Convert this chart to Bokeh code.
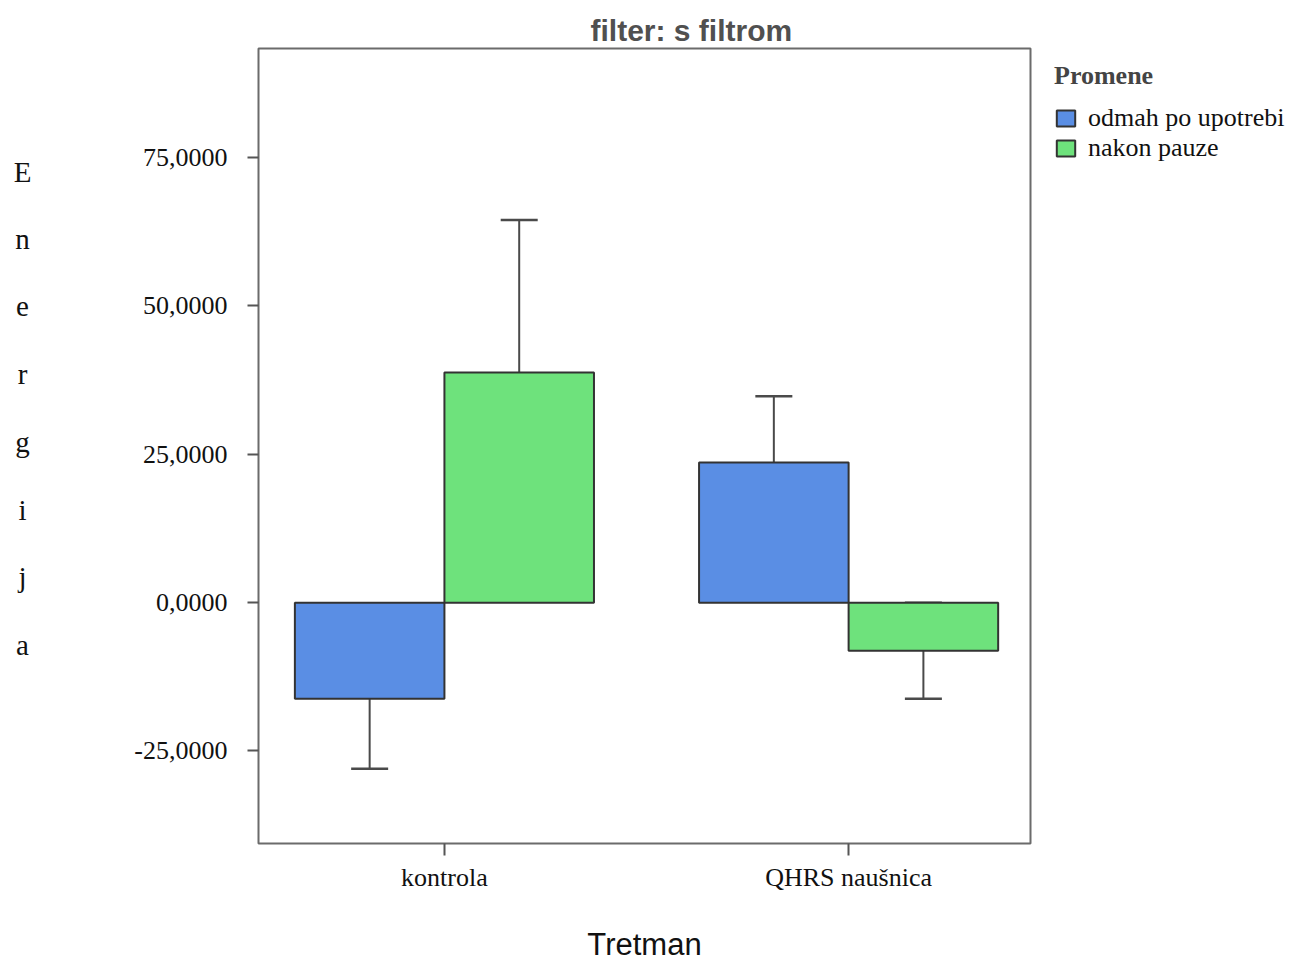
from bokeh.plotting import figure
from bokeh.models import (ColumnDataSource, Range1d, FixedTicker, Whisker, TeeHead,
                          Legend, LegendItem)
from bokeh.layouts import row
from bokeh.embed import file_html
from bokeh.resources import INLINE
from bokeh.core.properties import value

# ---------------- data ----------------
categories = ["kontrola", "QHRS naušnica"]
series = ["odmah po upotrebi", "nakon pauze"]
mean_odmah = [-16.2, 23.6]
mean_nakon = [38.8, -8.1]
lower_odmah = [-28.0, 12.5]
upper_odmah = [-4.2, 34.8]
lower_nakon = [13.3, -16.2]
upper_nakon = [64.5, 0.0]
y_ticks = [-25, 0, 25, 50, 75]
y_tick_labels = ["-25,0000", "0,0000", "25,0000", "50,0000", "75,0000"]
title_text = "filter: s filtrom"
x_title = "Tretman"
y_title = "Energija"
legend_title = "Promene"

colors = ["#5a8ee4", "#6ee27c"]
bar_w = 0.37
pos = [1, 2]

SIDE_W = 88
FRAME_W, FRAME_H = 772, 795
TOP, BOTTOM, LEFT, RIGHT = 48, 118, 170, 266

p = figure(output_backend="svg", toolbar_location=None,
           frame_width=FRAME_W, frame_height=FRAME_H,
           x_range=Range1d(0.54, 2.45), y_range=Range1d(-40.6, 93.4),
           min_border_left=LEFT, min_border_top=TOP, min_border_bottom=BOTTOM,
           min_border_right=RIGHT, background_fill_color="white")

src_o = ColumnDataSource(dict(x=[v - bar_w / 2 for v in pos], top=mean_odmah,
                              lo=lower_odmah, hi=upper_odmah))
src_n = ColumnDataSource(dict(x=[v + bar_w / 2 for v in pos], top=mean_nakon,
                              lo=lower_nakon, hi=upper_nakon))

r_o = p.vbar(x="x", top="top", bottom=0, width=bar_w, source=src_o,
             fill_color=colors[0], line_color="#333333", line_width=2)
r_n = p.vbar(x="x", top="top", bottom=0, width=bar_w, source=src_n,
             fill_color=colors[1], line_color="#333333", line_width=2)

for src in (src_o, src_n):
    w = Whisker(source=src, base="x", lower="lo", upper="hi",
                line_color="#4a4a4a", line_width=2,
                upper_head=TeeHead(size=37, line_color="#4a4a4a", line_width=2.5),
                lower_head=TeeHead(size=37, line_color="#4a4a4a", line_width=2.5))
    p.add_layout(w)

# title
p.title.text = title_text
p.title.align = "left"
p.title.offset = 332
p.title.standoff = 4
p.title.text_font = "Liberation Sans"
p.title.text_font_size = "30px"
p.title.text_font_style = "bold"
p.title.text_color = "#505050"

# axes
p.xaxis.ticker = FixedTicker(ticks=pos)
p.xaxis.major_label_overrides = {pos[i]: categories[i] for i in range(2)}
p.yaxis.ticker = FixedTicker(ticks=y_ticks)
p.yaxis.major_label_overrides = {y_ticks[i]: y_tick_labels[i] for i in range(len(y_ticks))}
for ax in (p.xaxis, p.yaxis):
    ax.axis_line_color = None
    ax.major_tick_line_color = "#555555"
    ax.major_tick_line_width = 2
    ax.minor_tick_line_color = None
    ax.major_tick_in = 0
    ax.major_label_text_font = "Liberation Serif"
    ax.major_label_text_font_size = "26px"
    ax.major_label_text_color = "#111111"
p.yaxis.major_tick_out = 11
p.yaxis.major_label_standoff = 20
p.xaxis.major_tick_out = 12
p.xaxis.major_label_standoff = 7
p.xaxis.axis_label = x_title
p.xaxis.axis_label_text_font = "Liberation Sans"
p.xaxis.axis_label_text_font_size = "31px"
p.xaxis.axis_label_text_font_style = "normal"
p.xaxis.axis_label_text_color = "#111111"
p.xaxis.axis_label_standoff = 32

p.xgrid.grid_line_color = None
p.ygrid.grid_line_color = None
p.outline_line_color = "#6b6b6b"
p.outline_line_width = 2

legend = Legend(items=[LegendItem(label=series[0], renderers=[r_o]),
                       LegendItem(label=series[1], renderers=[r_n])],
                title=legend_title, location=(24, 680))
legend.title_text_font = "Liberation Serif"
legend.title_text_font_size = "26px"
legend.title_text_font_style = "bold"
legend.title_standoff = 12
legend.label_text_font = "Liberation Serif"
legend.label_text_font_size = "26px"
legend.label_text_color = "#111111"
legend.glyph_width = 23
legend.glyph_height = 20
legend.label_height = 20
legend.spacing = 0
legend.label_standoff = 11
legend.padding = 0
legend.margin = 0
legend.border_line_color = None
legend.background_fill_alpha = 0
p.add_layout(legend, "right")

# vertical stacked y-axis title in a narrow side figure (page-pixel coordinates)
side = figure(output_backend="svg", toolbar_location=None,
              frame_width=SIDE_W, frame_height=FRAME_H,
              min_border_left=0, min_border_right=0,
              min_border_top=TOP, min_border_bottom=BOTTOM,
              x_range=Range1d(0, SIDE_W), y_range=Range1d(TOP + FRAME_H, TOP),
              outline_line_color=None)
side.axis.visible = False
side.grid.grid_line_color = None
letters = list(y_title)
side.text(x=[22] * len(letters), y=[171 + 67.6 * i for i in range(len(letters))],
          text=letters, text_font=value("Liberation Serif"), text_font_size="29px",
          text_align="center", text_baseline="middle", text_color="#111111")

layout = row(side, p)
open("out.html", "w").write(file_html(layout, INLINE))
